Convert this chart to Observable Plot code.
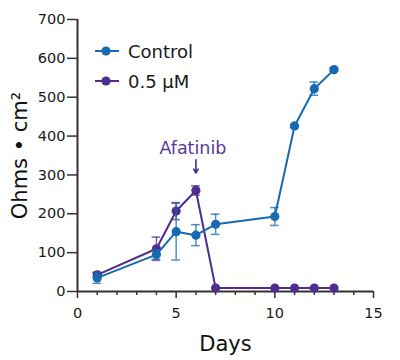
<!DOCTYPE html>
<html>
<head>
<meta charset="utf-8">
<script src="https://cdn.jsdelivr.net/npm/d3@7"></script>
<script src="https://cdn.jsdelivr.net/npm/@observablehq/plot@0.6"></script>
<style>
  html, body { margin: 0; padding: 0; background: #fff; }
  #wrap { position: relative; width: 400px; height: 360px; font-family: "DejaVu Sans", Verdana, sans-serif; }
  #legend { position: absolute; left: 94px; top: 36px; }
  .row { display: flex; align-items: center; height: 30px; font-size: 18px; color: #1a1a1a; }
  .row svg { margin-right: 8px; }
</style>
</head>
<body>
<div id="wrap"><div id="legend"></div></div>
<script>
// ---- data ----
const days = [1, 4, 5, 6, 7, 10, 11, 12, 13];
const controlValues = [35, 95, 154, 145, 173, 193, 426, 522, 571];
const controlErrors = [14, 12, 73, 27, 26, 23, 4, 17, 4];
const treatedValues = [43, 110, 207, 260, 9, 9, 9, 9, 9];
const treatedErrors = [6, 30, 22, 12, 0, 0, 0, 0, 0];
const seriesNames = ["Control", "0.5 µM"];
const seriesColors = ["#1769b0", "#4e2d8f"];
const xTicks = [0, 5, 10, 15];
const xMinorTicks = [1, 2, 3, 4, 6, 7, 8, 9, 11, 12, 13, 14];
const yTicks = [0, 100, 200, 300, 400, 500, 600, 700];
const annotationDay = 6;
const annotationLabel = "Afatinib";
const annotationLabelY = 368;
const arrowFromY = 339;
const arrowToY = 305;
const xLabel = "Days";
const yLabel = "Ohms • cm²";

const rows = [];
days.forEach((d, i) => {
  rows.push({series: seriesNames[0], day: d, value: controlValues[i], err: controlErrors[i]});
});
days.forEach((d, i) => {
  rows.push({series: seriesNames[1], day: d, value: treatedValues[i], err: treatedErrors[i]});
});
const drawOrder = [seriesNames[1], seriesNames[0]];
const capHalf = 0.22;
const font = "DejaVu Sans, Verdana, sans-serif";
const axisColor = "#333";

const marks = [];
for (const s of drawOrder) {
  const data = rows.filter(r => r.series === s);
  const col = seriesColors[seriesNames.indexOf(s)];
  const eb = data.filter(r => r.err > 0);
  marks.push(
    Plot.ruleX(eb, {x: "day", y1: r => r.value - r.err, y2: r => r.value + r.err, stroke: col, strokeOpacity: 0.75, strokeWidth: 1.5}),
    Plot.ruleY(eb, {y: r => r.value + r.err, x1: r => r.day - capHalf, x2: r => r.day + capHalf, stroke: col, strokeOpacity: 0.75, strokeWidth: 1.5}),
    Plot.ruleY(eb, {y: r => r.value - r.err, x1: r => r.day - capHalf, x2: r => r.day + capHalf, stroke: col, strokeOpacity: 0.75, strokeWidth: 1.5}),
    Plot.line(data, {x: "day", y: "value", stroke: col, strokeWidth: 2}),
    Plot.dot(data, {x: "day", y: "value", fill: col, r: 4.6})
  );
}

const chart = Plot.plot({
  width: 400,
  height: 360,
  marginLeft: 77,
  marginRight: 27,
  marginTop: 19,
  marginBottom: 69,
  style: {fontFamily: font, background: "#fff", color: "#1a1a1a"},
  x: {domain: [0, 15]},
  y: {domain: [0, 700]},
  marks: [
    Plot.axisY({ticks: yTicks, tickSize: 10, tickPadding: 2, fontSize: 14.5, stroke: axisColor, strokeWidth: 1.5, label: null, fill: "#1a1a1a"}),
    Plot.axisX({ticks: xTicks, tickSize: 7, tickPadding: 9, fontSize: 14.5, stroke: axisColor, strokeWidth: 1.5, label: null, fill: "#1a1a1a"}),
    Plot.axisX({ticks: xMinorTicks, tickSize: 4, text: null, stroke: axisColor, strokeWidth: 1.5, label: null}),
    Plot.ruleX([0], {stroke: axisColor, strokeWidth: 2}),
    Plot.ruleY([0], {stroke: axisColor, strokeWidth: 2}),
    ...marks,
    Plot.text([annotationLabel], {x: annotationDay, y: annotationLabelY, text: d => d, fill: "#5a3a9e", fontSize: 17.5, dx: -3}),
    Plot.arrow([annotationDay], {x: d => d, y1: arrowFromY, y2: arrowToY, stroke: "#4e2d8f", strokeWidth: 1.6, headLength: 6}),
    Plot.text([xLabel], {frameAnchor: "bottom", lineAnchor: "bottom", textAnchor: "middle", dy: 59, text: d => d, fontSize: 21, fill: "#111"}),
    Plot.text([yLabel], {frameAnchor: "left", lineAnchor: "bottom", textAnchor: "middle", rotate: -90, dx: -51, text: d => d, fontSize: 21, fill: "#111"})
  ]
});
document.getElementById("wrap").prepend(chart);

// legend
const legend = document.getElementById("legend");
seriesNames.forEach((name, i) => {
  const row = document.createElement("div");
  row.className = "row";
  row.innerHTML = `<svg width="26" height="12"><line x1="1" y1="6" x2="25" y2="6" stroke="${seriesColors[i]}" stroke-width="2"/><circle cx="12" cy="6" r="4.6" fill="${seriesColors[i]}"/></svg><span>${name}</span>`;
  legend.appendChild(row);
});
</script>
</body>
</html>
